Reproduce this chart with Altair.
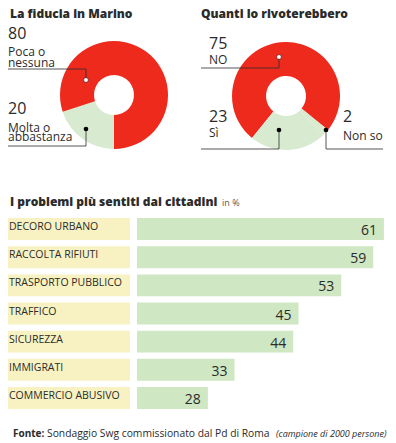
import math
import altair as alt
import pandas as pd

# ---------------- data ----------------
trust_labels = ["Molta o abbastanza", "Poca o nessuna"]
trust_values = [20, 80]

revote_labels = ["NO", "Non so", "Sì"]
revote_values = [75, 2, 23]

problems = ["DECORO URBANO", "RACCOLTA RIFIUTI", "TRASPORTO PUBBLICO", "TRAFFICO",
            "SICUREZZA", "IMMIGRATI", "COMMERCIO ABUSIVO"]
problem_values = [61, 59, 53, 45, 44, 33, 28]

# ---------------- style ----------------
RED = "#ee2a1d"
PALE = "#d8ebd1"
BAR = "#cfe7c2"
YELLOW = "#f8f2c2"
INK = "#2b2b2b"
FONT = "Open Sans"

PT = 6                      # top padding; layout y values below are page-offset values
W, H = 380, 435 - PT


def Y(v):
    return v - PT


trust_df = pd.DataFrame({"label": trust_labels, "value": trust_values,
                         "order": list(range(len(trust_labels)))})
revote_df = pd.DataFrame({"label": revote_labels, "value": revote_values,
                          "order": list(range(len(revote_labels)))})
prob_df = pd.DataFrame({"problem": problems, "value": problem_values})

color_scale = alt.Scale(domain=trust_labels + revote_labels,
                        range=[PALE, RED, RED, PALE, PALE])


def donut(df, cx, cy, start):
    return alt.Chart(df).mark_arc(outerRadius=54, innerRadius=20, stroke=None).encode(
        theta=alt.Theta("value:Q", stack=True,
                        scale=alt.Scale(range=[start, start + 2 * math.pi])),
        color=alt.Color("label:N", scale=color_scale, legend=None),
        order=alt.Order("order:Q"),
        x=alt.value(cx), y=alt.value(Y(cy)),
    )


def text(t, x, y, size=12, weight="normal", color=INK, align="left", style="normal"):
    return alt.Chart(pd.DataFrame({"t": [t]})).mark_text(
        align=align, baseline="alphabetic", fontSize=size, fontWeight=weight,
        font=FONT, color=color, fontStyle=style,
    ).encode(text="t:N", x=alt.value(x), y=alt.value(Y(y)))


def hline(x1, x2, y):
    return alt.Chart(pd.DataFrame({"a": [0]})).mark_rule(color=INK, strokeWidth=0.8).encode(
        x=alt.value(x1), x2=alt.value(x2), y=alt.value(Y(y)))


def vline(x, y1, y2):
    return alt.Chart(pd.DataFrame({"a": [0]})).mark_rule(color=INK, strokeWidth=0.8).encode(
        x=alt.value(x), y=alt.value(Y(y1)), y2=alt.value(Y(y2)))


def dot(x, y, fill):
    return alt.Chart(pd.DataFrame({"a": [0]})).mark_circle(
        size=22, opacity=1, color=fill, stroke=INK if fill == "white" else None,
        strokeWidth=0.6).encode(x=alt.value(x), y=alt.value(Y(y)))


layers = []

# ---- donut 1 ----
layers.append(donut(trust_df, 106, 87, math.pi))
layers.append(text("La fiducia in Marino", 2, 10, size=12, weight=800))
layers.append(text(str(trust_values[1]), 0, 31, size=16))
layers.append(text("Poca o", 0, 48))
layers.append(text("nessuna", 0, 59))
layers.append(hline(0, 78, 61))
layers.append(vline(78, 61, 72))
layers.append(dot(78, 72, "white"))
layers.append(text(str(trust_values[0]), 0, 106, size=16))
layers.append(text("Molta o", 0, 124))
layers.append(text("abbastanza", 0, 133))
layers.append(hline(0, 78, 138))
layers.append(vline(78, 121, 138))
layers.append(dot(78, 121, "black"))

# ---- donut 2 ----
layers.append(donut(revote_df, 278, 88, math.radians(219)))
layers.append(text("Quanti lo rivoterebbero", 193, 10, size=12, weight=800))
layers.append(text(str(revote_values[0]), 201, 41, size=16))
layers.append(text(revote_labels[0], 201, 56))
layers.append(hline(193, 271, 60))
layers.append(vline(271, 49, 60))
layers.append(dot(271, 49, "white"))
layers.append(text(str(revote_values[2]), 201, 114, size=16))
layers.append(text(revote_labels[2], 201, 129))
layers.append(hline(193, 271, 141))
layers.append(vline(271, 122, 141))
layers.append(dot(271, 122, "black"))
layers.append(text(str(revote_values[1]), 335, 114, size=16))
layers.append(text(revote_labels[1], 335, 132))
layers.append(hline(318, 375, 141))
layers.append(vline(318, 122, 141))
layers.append(dot(318, 122, "black"))

# ---- bar chart ----
y_enc = alt.Y("problem:N", sort=problems, axis=None,
              scale=alt.Scale(range=[Y(207), Y(404)], paddingInner=0.22, paddingOuter=0.11))
x_enc = alt.X("value:Q", axis=None, stack=None,
              scale=alt.Scale(domain=[0, 61], range=[50.5, 375.9]))

layers.append(text("I problemi più sentiti dai cittadini", 2, 198, size=12, weight=800))
layers.append(text("in %", 214, 198, size=9, color="#555555"))

base = alt.Chart(prob_df)
layers.append(base.mark_bar(color=BAR).encode(y=y_enc, x=x_enc, x2=alt.value(129)))
layers.append(base.mark_rect(color=YELLOW).encode(
    y=y_enc, x=alt.value(0), x2=alt.value(122)))
layers.append(base.mark_text(align="left", baseline="middle", dy=-2, fontSize=10.5,
                             font=FONT, color=INK).encode(
    y=y_enc, x=alt.value(1), text="problem:N"))
layers.append(base.mark_text(align="right", baseline="middle", dx=-7, dy=2, fontSize=14,
                             font=FONT, color=INK).encode(
    y=y_enc, x=x_enc, text="value:Q"))

# ---- footer ----
layers.append(text("Fonte:", 5, 429, size=10, weight="bold"))
layers.append(text("Sondaggio Swg commissionato dal Pd di Roma", 39, 429, size=10.3))
layers.append(text("(campione di 2000 persone)", 268, 429, size=9, style="italic"))

chart = alt.layer(*layers).resolve_scale(theta="independent").properties(
    width=W, height=H,
    padding={"top": PT, "left": 0, "right": 0, "bottom": 0},
    autosize=alt.AutoSizeParams(type="none"),
).configure_view(stroke=None)

chart.save("out.html", embed_options={"renderer": "svg", "actions": False})
